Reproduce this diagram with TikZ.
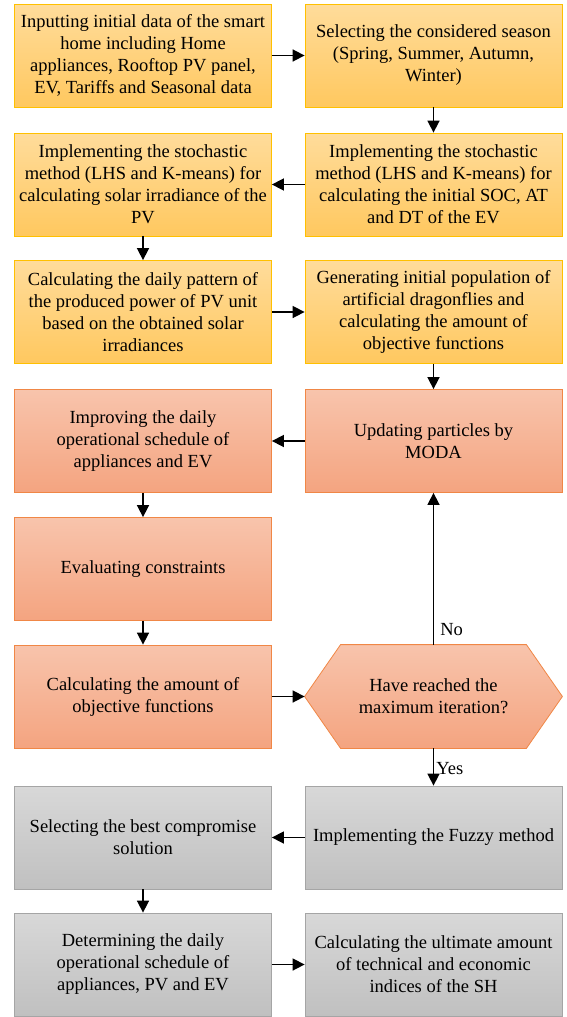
\documentclass[tikz,border=0pt]{standalone}
\usepackage{fontspec}
\setmainfont{Liberation Serif}
\usetikzlibrary{arrows.meta,positioning}
\definecolor{yTop}{RGB}{255,220,155}
\definecolor{yBot}{RGB}{255,200,95}
\definecolor{yLine}{RGB}{255,192,0}
\definecolor{oTop}{RGB}{248,196,172}
\definecolor{oBot}{RGB}{244,164,128}
\definecolor{oLine}{RGB}{240,135,70}
\definecolor{gTop}{RGB}{216,216,216}
\definecolor{gBot}{RGB}{192,192,192}
\definecolor{gLine}{RGB}{165,165,165}
\tikzset{
  base/.style={minimum width=257pt,minimum height=103pt,inner sep=0pt,
    align=center,font=\fontsize{18.5}{22}\selectfont,line width=0.8pt},
  ybox/.style={base,draw=yLine,top color=yTop,bottom color=yBot},
  obox/.style={base,draw=oLine,top color=oTop,bottom color=oBot},
  gbox/.style={base,draw=gLine,top color=gTop,bottom color=gBot},
  conn/.style={line width=1.6pt,-{Triangle[length=12pt,width=12pt]}},
  lbl/.style={font=\fontsize{18.5}{22}\selectfont,inner sep=1pt}
}
\begin{document}
\begin{tikzpicture}[x=1pt,y=-1pt]
\useasboundingbox (0,0) rectangle (567,1017);
\node[ybox] (L1) at (143,55.5) {Inputting initial data of the smart\\home including Home\\appliances, Rooftop PV panel,\\EV, Tariffs and Seasonal data};
\node[ybox] (R1) at (433.5,55.5) {Selecting the considered season\\(Spring, Summer, Autumn,\\Winter)};
\node[ybox] (L2) at (143,184.5) {Implementing the stochastic\\method (LHS and K-means) for\\calculating solar irradiance of the\\PV};
\node[ybox] (R2) at (433.5,184.5) {Implementing the stochastic\\method (LHS and K-means) for\\calculating the initial SOC, AT\\and DT of the EV};
\node[ybox] (L3) at (143,312) {Calculating the daily pattern of\\the produced power of PV unit\\based on the obtained solar\\irradiances};
\node[ybox] (R3) at (433.5,312) {Generating initial population of\\artificial dragonflies and\\calculating the amount of\\objective functions};
\node[obox] (L4) at (143,441) {Improving the daily\\operational schedule of\\appliances and EV};
\node[obox] (R4) at (433.5,441) {Updating particles by\\MODA};
\node[obox] (L5) at (143,569) {Evaluating constraints};
\node[obox] (L6) at (143,696.5) {Calculating the amount of\\objective functions};
\node[base,draw=none] (H) at (433.5,696.5) {};
\shade[top color=oTop,bottom color=oBot,draw=oLine,line width=0.8pt]
  (H.west) -- ([xshift=36pt]H.north west) -- ([xshift=-36pt]H.north east) -- (H.east)
  -- ([xshift=-36pt]H.south east) -- ([xshift=36pt]H.south west) -- cycle;
\node[base] at (H.center) {Have reached the\\maximum iteration?};
\node[gbox] (L7) at (143,837.5) {Selecting the best compromise\\solution};
\node[gbox] (R7) at (433.5,837.5) {Implementing the Fuzzy method};
\node[gbox] (L8) at (143,964.5) {Determining the daily\\operational schedule of\\appliances, PV and EV};
\node[gbox] (R8) at (433.5,964.5) {Calculating the ultimate amount\\of technical and economic\\indices of the SH};
\draw[conn] (L1.east) -- (R1.west);
\draw[conn] (R1.south) -- (R2.north);
\draw[conn] (R2.west) -- (L2.east);
\draw[conn] (L2.south) -- (L3.north);
\draw[conn] (L3.east) -- (R3.west);
\draw[conn] (R3.south) -- (R4.north);
\draw[conn] (R4.west) -- (L4.east);
\draw[conn] (L4.south) -- (L5.north);
\draw[conn] (L5.south) -- (L6.north);
\draw[conn] (L6.east) -- (H.west);
\draw[conn] (H.north) -- node[lbl,pos=0.1,right=5pt] {No} (R4.south);
\draw[conn] (H.south) -- node[lbl,pos=0.55,right=1pt] {Yes} (R7.north);
\draw[conn] (R7.west) -- (L7.east);
\draw[conn] (L7.south) -- (L8.north);
\draw[conn] (L8.east) -- (R8.west);
\end{tikzpicture}
\end{document}
